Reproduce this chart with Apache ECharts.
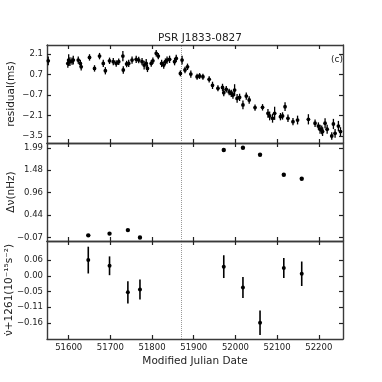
<!DOCTYPE html>
<html>
<head>
<meta charset="utf-8">
<script src="https://cdn.jsdelivr.net/npm/echarts@6/dist/echarts.min.js"></script>
<style>
html,body{margin:0;padding:0;background:#fff;}
#chart1{width:382px;height:382px;}
</style>
</head>
<body>
<div id="chart1"></div>
<script>
// 时间轴 (MJD)
var xMin = 51548, xMax = 52258;
var xTicks = [51600, 51700, 51800, 51900, 52000, 52100, 52200];
var glitchMjd = 51871;

// 上图: 残差 (ms)
var resMjd = [51551, 51598, 51600, 51603, 51608, 51611, 51623, 51628, 51630, 51650,
    51662, 51674, 51683, 51688, 51698, 51707, 51714, 51720, 51730, 51731,
    51739, 51744, 51752, 51762, 51768, 51776, 51781, 51786, 51789, 51798,
    51802, 51810, 51815, 51823, 51828, 51832, 51836, 51842, 51854, 51858,
    51868, 51872, 51879, 51885, 51893, 51908, 51914, 51922, 51937, 51945,
    51958, 51969, 51972, 51978, 51985, 51990, 51994, 51998, 52004, 52010,
    52018, 52026, 52033, 52047, 52065, 52078, 52082, 52089, 52094, 52108,
    52113, 52119, 52126, 52138, 52149, 52175, 52191, 52199, 52203, 52207,
    52209, 52215, 52220, 52231, 52235, 52239, 52247, 52252];
var resVal = [1.64, 1.46, 1.69, 1.58, 1.62, 1.69, 1.69, 1.46, 1.23, 1.87,
    1.12, 1.96, 1.46, 0.96, 1.64, 1.58, 1.46, 1.58, 1.96, 1.01,
    1.42, 1.46, 1.69, 1.74, 1.69, 1.58, 1.35, 1.46, 1.12, 1.46,
    1.64, 2.15, 1.96, 1.46, 1.35, 1.58, 1.69, 1.74, 1.58, 1.80,
    0.78, 1.69, 1.01, 1.23, 0.73, 0.55, 0.60, 0.55, 0.37, -0.04,
    -0.24, -0.18, -0.54, -0.31, -0.49, -0.59, -0.70, -0.36, -0.93, -0.86,
    -1.38, -0.77, -1.04, -1.56, -1.54, -1.95, -2.13, -2.29, -1.95, -2.18,
    -2.13, -1.50, -2.29, -2.52, -2.41, -2.36, -2.63, -2.82, -3.04, -3.09,
    -3.20, -2.63, -3.04, -3.50, -2.68, -3.32, -2.82, -3.20];
var resErr = [0.30, 0.30, 0.40, 0.30, 0.25, 0.30, 0.25, 0.25, 0.25, 0.22,
    0.22, 0.22, 0.25, 0.25, 0.22, 0.25, 0.22, 0.22, 0.35, 0.25,
    0.22, 0.25, 0.25, 0.25, 0.22, 0.25, 0.30, 0.30, 0.25, 0.22,
    0.22, 0.22, 0.22, 0.25, 0.25, 0.22, 0.25, 0.25, 0.25, 0.25,
    0.20, 0.30, 0.22, 0.22, 0.25, 0.20, 0.20, 0.20, 0.22, 0.25,
    0.20, 0.25, 0.25, 0.22, 0.22, 0.25, 0.25, 0.40, 0.30, 0.25,
    0.30, 0.25, 0.25, 0.22, 0.22, 0.30, 0.30, 0.30, 0.45, 0.25,
    0.25, 0.30, 0.25, 0.25, 0.30, 0.35, 0.25, 0.25, 0.30, 0.30,
    0.30, 0.35, 0.30, 0.25, 0.35, 0.30, 0.35, 0.30];
var resTicks = [2.1, 0.7, -0.7, -2.1, -3.5];

// 中图: Δν (nHz)
var fitMjd = [51647, 51698, 51742, 51771, 51972, 52018, 52059, 52116, 52159];
var dnuVal = [-0.02, 0.02, 0.10, -0.07, 1.94, 1.99, 1.83, 1.37, 1.28];
var dnuTicks = [1.99, 1.475, 0.96, 0.445, -0.07];
var dnuLabels = ['1.99', '1.48', '0.96', '0.44', '\u22120.07'];

// 下图: ν̇ + 1261 (1e-15 s^-2)
var nddVal = [0.060, 0.040, -0.053, -0.043, 0.037, -0.036, -0.160, 0.032, 0.012];
var nddErr = [0.047, 0.033, 0.039, 0.035, 0.040, 0.037, 0.043, 0.035, 0.043];
var nddTicks = [0.06, 0.005, -0.05, -0.105, -0.16];
var nddLabels = ['0.06', '0.00', '\u22120.05', '\u22120.11', '\u22120.16'];

var FONT = 'DejaVu Sans';
var grids = [
    {left: 47, right: 39, top: 45, height: 98},
    {left: 47, right: 39, top: 143, height: 98},
    {left: 47, right: 39, top: 241, height: 98}
];

function nearestLabel(ticks, labels, v){
    var best = 0;
    for (var i = 1; i < ticks.length; i++) {
        if (Math.abs(ticks[i] - v) < Math.abs(ticks[best] - v)) best = i;
    }
    return labels[best];
}

// 坐标轴当作边框画, 刻度朝内
function axisBase(gi, min, max, ticks){
    return {
        type: 'value', gridIndex: gi, min: min, max: max,
        splitLine: {show: false},
        axisLine: {show: true, onZero: false, lineStyle: {color: '#3a3a3a', width: 1.4}},
        axisTick: {show: true, inside: true, length: 4, customValues: ticks, lineStyle: {color: '#222', width: 1.2}}
    };
}

function xAxisPair(gi, withLabels, name){
    var bottom = axisBase(gi, xMin, xMax, xTicks);
    bottom.position = 'bottom';
    bottom.axisLabel = {show: withLabels, customValues: xTicks, margin: 4, color: '#222', fontSize: 8.5, fontFamily: FONT,
        formatter: function(v){ return String(v); }};
    bottom.name = name || '';
    bottom.nameLocation = 'middle';
    bottom.nameGap = 17;
    bottom.nameMoveOverlap = false;
    bottom.nameTextStyle = {fontSize: 10.5, color: '#222', fontFamily: FONT};
    var top = axisBase(gi, xMin, xMax, xTicks);
    top.position = 'top';
    top.axisLabel = {show: false, customValues: xTicks};
    return [bottom, top];
}

function yAxisPair(gi, min, max, ticks, fmt, name, gap){
    var left = axisBase(gi, min, max, ticks);
    left.position = 'left';
    left.axisLabel = {show: true, customValues: ticks, formatter: fmt, margin: 4, color: '#222', fontSize: 8.5, fontFamily: FONT};
    left.name = name;
    left.nameLocation = 'middle';
    left.nameGap = gap;
    left.nameRotate = 90;
    left.nameMoveOverlap = false;
    left.nameTextStyle = {fontSize: 10.5, color: '#222', fontFamily: FONT};
    var right = axisBase(gi, min, max, ticks);
    right.position = 'right';
    right.axisLabel = {show: false, customValues: ticks};
    return [left, right];
}

// 误差棒 + 点
function errItem(r, lw){
    return function(params, api){
        var x = api.value(0), y = api.value(1), e = api.value(2);
        var p = api.coord([x, y]);
        var lo = api.coord([x, y - e]);
        var hi = api.coord([x, y + e]);
        var kids = [];
        if (e > 0) {
            kids.push({type: 'line', shape: {x1: p[0], y1: lo[1], x2: p[0], y2: hi[1]},
                style: {stroke: '#000', lineWidth: lw}});
        }
        kids.push({type: 'circle', shape: {cx: p[0], cy: p[1], r: r}, style: {fill: '#000'}});
        return {type: 'group', children: kids};
    };
}

function glitchLine(gi){
    return {
        type: 'line', xAxisIndex: gi * 2, yAxisIndex: gi * 2, data: [], silent: true,
        markLine: {
            symbol: 'none', silent: true, animation: false,
            label: {show: false},
            lineStyle: {type: 'dotted', color: '#999', width: 1},
            data: [{xAxis: glitchMjd}]
        }
    };
}

var resData = resMjd.map(function(m, i){ return [m, resVal[i], resErr[i]]; });
var dnuData = fitMjd.map(function(m, i){ return [m, dnuVal[i], 0]; });
var nddData = fitMjd.map(function(m, i){ return [m, nddVal[i], nddErr[i]]; });

var xAxes = [].concat(xAxisPair(0, false), xAxisPair(1, false), xAxisPair(2, true, 'Modified Julian Date'));
var yAxes = [].concat(
    yAxisPair(0, -3.98, 2.72, resTicks, function(v){ return v.toFixed(1).replace('-', '\u2212'); }, 'residual(ms)', 30),
    yAxisPair(1, -0.15, 2.1, dnuTicks, function(v){ return nearestLabel(dnuTicks, dnuLabels, v); }, '\u0394\u03bd(nHz)', 30),
    yAxisPair(2, -0.217, 0.127, nddTicks, function(v){ return nearestLabel(nddTicks, nddLabels, v); },
        '\u03bd\u0307+1261(10\u207b\u00b9\u2075s\u207b\u00b2)', 32)
);

var option = {
    animation: false,
    backgroundColor: '#fff',
    title: [
        {text: 'PSR J1833-0827', left: 195, top: 28, textAlign: 'center',
            textStyle: {fontSize: 10.5, fontWeight: 'normal', color: '#222', fontFamily: FONT}},
        {text: '(c)', left: 332, top: 50, textAlign: 'center',
            textStyle: {fontSize: 9, fontWeight: 'normal', color: '#222', fontFamily: FONT}}
    ],
    grid: grids.map(function(g){
        return {left: g.left, right: g.right, top: g.top, height: g.height,
            containLabel: false, outerBoundsMode: 'none', show: false};
    }),
    xAxis: xAxes,
    yAxis: yAxes,
    series: [
        glitchLine(0), glitchLine(1), glitchLine(2),
        {type: 'custom', xAxisIndex: 0, yAxisIndex: 0, data: resData, renderItem: errItem(1.9, 1.3), z: 5},
        {type: 'custom', xAxisIndex: 2, yAxisIndex: 2, data: dnuData, renderItem: errItem(2.2, 1.3), z: 5},
        {type: 'custom', xAxisIndex: 4, yAxisIndex: 4, data: nddData, renderItem: errItem(2, 1.6), z: 5}
    ]
};

var myChart = echarts.init(document.getElementById('chart1'));
myChart.setOption(option);
</script>
</body>
</html>
